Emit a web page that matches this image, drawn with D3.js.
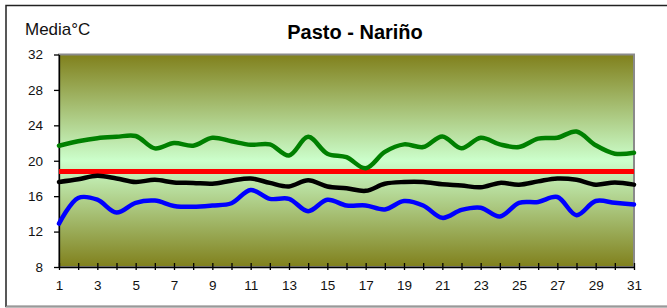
<!DOCTYPE html>
<html><head><meta charset="utf-8">
<script src="https://cdn.jsdelivr.net/npm/d3@7/dist/d3.min.js"></script>
<style>body{margin:0;background:#fff}svg{display:block}text{font-family:"Liberation Sans",Arial,sans-serif}</style>
</head><body><svg id="c" width="667" height="308"></svg>
<script>
const days = d3.range(1, 32);
const maxTemp = [21.7,22.2,22.55,22.7,22.8,21.4,22.0,21.7,22.6,22.2,21.8,21.85,20.6,22.7,20.8,20.4,19.15,21.0,21.85,21.55,22.75,21.4,22.6,21.85,21.55,22.5,22.6,23.3,21.75,20.8,20.9];
const meanTemp = [17.6,17.9,18.3,18.0,17.6,17.85,17.55,17.5,17.4,17.75,18.0,17.5,17.1,17.8,17.1,16.9,16.6,17.4,17.6,17.6,17.35,17.2,17.0,17.5,17.3,17.67,18.0,17.85,17.3,17.55,17.3];
const minTemp = [12.9,15.8,15.6,14.15,15.25,15.5,14.9,14.8,14.95,15.2,16.7,15.7,15.7,14.3,15.6,14.95,14.95,14.5,15.45,14.95,13.55,14.45,14.7,13.7,15.25,15.35,15.9,13.85,15.45,15.25,15.05];
const refTemp = 18.8;
const yTicks = [8,12,16,20,24,28,32];
const xLabels = d3.range(1, 32, 2);

const svg = d3.select("#c");
const L = 59, R = 634, T = 54.5, B = 267;
const x = d3.scaleLinear().domain([1,31]).range([L,R]);
const y = d3.scaleLinear().domain([8,32]).range([B,T]);

// outer border
svg.append("rect").attr("x",6).attr("y",5.5).attr("width",680).attr("height",301).attr("fill","none").attr("stroke","#222").attr("stroke-width",1.5);
svg.append("line").attr("x1",6).attr("x2",667).attr("y1",306.5).attr("y2",306.5).attr("stroke","#999").attr("stroke-width",1.5);

// gradient
const defs = svg.append("defs");
const g = defs.append("linearGradient").attr("id","bg").attr("x1",0).attr("y1",0).attr("x2",0).attr("y2",1);
g.append("stop").attr("offset","0%").attr("stop-color","#80801c");
g.append("stop").attr("offset","50%").attr("stop-color","#ccffcc");
g.append("stop").attr("offset","100%").attr("stop-color","#80801c");

svg.append("rect").attr("x",L).attr("y",T).attr("width",R-L).attr("height",B-T).attr("fill","url(#bg)").attr("stroke","#8a8a8a").attr("stroke-width",2);

// axes
const yAxis = d3.axisLeft(y).tickValues(yTicks).tickSize(5).tickSizeOuter(0).tickPadding(11);
const ya = svg.append("g").attr("transform",`translate(${L},0)`).call(yAxis);
ya.selectAll("text").attr("font-size",13.5).attr("fill","#111").style("font-family","Liberation Sans, Arial");
ya.select(".domain").attr("stroke","#000").attr("stroke-width",1.3);
ya.selectAll(".tick line").attr("stroke","#000").attr("stroke-width",1.3);

const xAxis = d3.axisBottom(x).tickValues(days).tickSize(3).tickSizeOuter(0).tickFormat(d => d % 2 === 1 ? d : "").tickPadding(10);
const xa = svg.append("g").attr("transform",`translate(0,${B})`).call(xAxis);
xa.selectAll(".tick line").attr("y1",-4).attr("y2",3).attr("stroke","#000").attr("stroke-width",1.3);
xa.select(".domain").attr("stroke","#000").attr("stroke-width",1.3);
xa.selectAll("text").attr("font-size",13.5).attr("fill","#111").style("font-family","Liberation Sans, Arial");

// lines
const line = d3.line().x((d,i)=>x(days[i])).y(d=>y(d)).curve(d3.curveCatmullRom.alpha(0.5));
const series = [[maxTemp,"#008000"],[meanTemp,"#000000"],[minTemp,"#0000ff"]];
svg.append("line").attr("x1",x(1)).attr("x2",x(31)).attr("y1",y(refTemp)).attr("y2",y(refTemp)).attr("stroke","#ff0000").attr("stroke-width",5);
series.forEach(([vals,col]) => {
  svg.append("path").datum(vals).attr("d",line).attr("fill","none").attr("stroke",col).attr("stroke-width",4.5).attr("stroke-linejoin","round").attr("stroke-linecap","round");
});

// texts
svg.append("text").attr("x",25).attr("y",35).attr("font-size",17).attr("fill","#111").text("Media°C");
svg.append("text").attr("x",355).attr("y",38.5).attr("text-anchor","middle").attr("font-size",20).attr("font-weight","bold").attr("fill","#000").text("Pasto - Nariño");
</script></body></html>
